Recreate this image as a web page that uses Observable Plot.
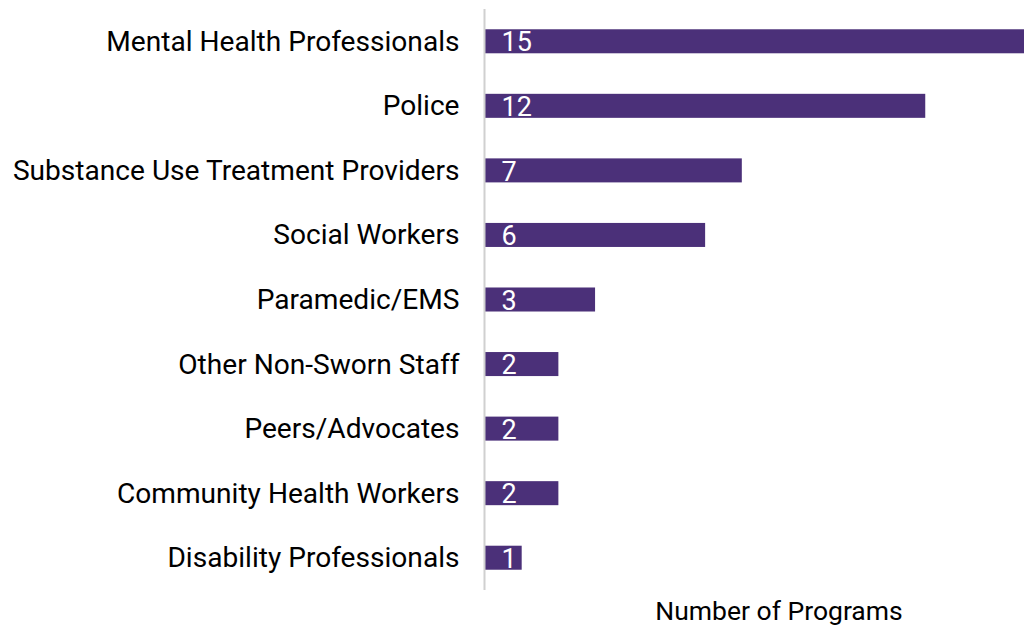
<!DOCTYPE html>
<html>
<head>
<meta charset="utf-8">
<script src="https://cdn.jsdelivr.net/npm/d3@7"></script>
<script src="https://cdn.jsdelivr.net/npm/@observablehq/plot@0.6"></script>
<style>
  html, body { margin: 0; padding: 0; background: #fff; }
  svg { font-family: Roboto, sans-serif; }
</style>
</head>
<body>
<div id="chart"></div>
<script>
const categories = [
  "Mental Health Professionals",
  "Police",
  "Substance Use Treatment Providers",
  "Social Workers",
  "Paramedic/EMS",
  "Other Non-Sworn Staff",
  "Peers/Advocates",
  "Community Health Workers",
  "Disability Professionals"
];
const values = [15, 12, 7, 6, 3, 2, 2, 2, 1];
const axisLabel = "Number of Programs";

const data = categories.map((c, i) => ({category: c, value: values[i]}));

const chart = Plot.plot({
  width: 1024,
  height: 626,
  marginTop: 9,
  marginBottom: 36,
  marginLeft: 485,
  marginRight: 0,
  style: {fontFamily: "Roboto, sans-serif", fontSize: "28px", overflow: "hidden"},
  x: {domain: [0, 16], range: [485, 1072], axis: null},
  y: {domain: categories, paddingInner: 0.628, paddingOuter: 0.314, round: false, label: null, axis: null},
  marks: [
    Plot.axisY({tickSize: 0, tickPadding: 26, fontSize: 28.1, fill: "#000", label: null}),
    Plot.barX(data, {x: "value", y: "category", fill: "#4b3079"}),
    Plot.ruleX([0], {stroke: "#d0d0d0", strokeWidth: 2, dx: -1}),
    Plot.text(data, {x: 0, y: "category", text: d => String(d.value), fill: "#fff", textAnchor: "start", dx: 16, dy: 1, fontSize: 27}),
    Plot.text([axisLabel], {x: 8, frameAnchor: "bottom", dy: 29, lineAnchor: "bottom", text: d => d, fill: "#000", fontSize: 26.5})
  ]
});
document.getElementById("chart").appendChild(chart);
</script>
</body>
</html>
